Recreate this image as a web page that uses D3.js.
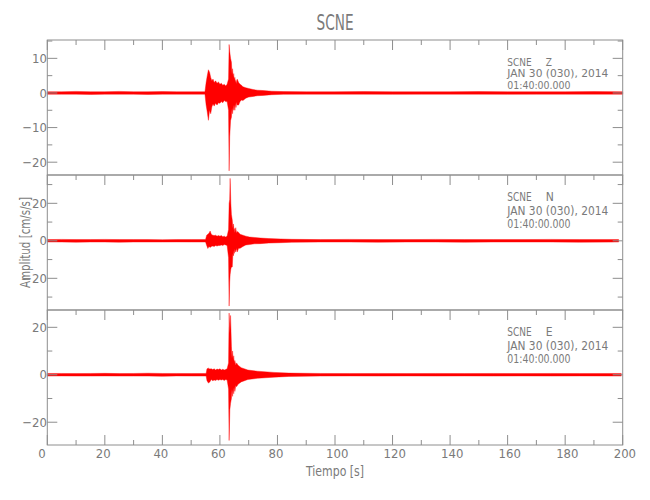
<!DOCTYPE html>
<html><head><meta charset="utf-8">
<script src="https://cdn.jsdelivr.net/npm/d3@7"></script>
<style>
html,body{margin:0;padding:0;background:#fff;}
text{font-family:"Liberation Sans Narrow","DejaVu Sans Condensed","Liberation Sans",sans-serif;fill:#7a7a7a;}
</style></head>
<body><svg id="c" width="650" height="500"></svg>
<script>
// ---------- data (envelope of each trace) ----------
const title = "SCNE";
const station = "SCNE";
const components = ["Z", "N", "E"];
const dateLabel = "JAN 30 (030), 2014";
const timeLabel = "01:40:00.000";
const xLabel = "Tiempo [s]";
const yLabel = "Amplitud [cm/s/s]";
const xTicks = [0, 20, 40, 60, 80, 100, 120, 140, 160, 180, 200];
const yDomains = [[-23.7, 15.3], [-36.9, 35.1], [-29.6, 27.3]];
const yMajorTicks = [[10, 0, -10, -20], [20, 0, -20], [20, 0, -20]];
const yMinorStep = [5, 10, 10];

// Z component
const zTime = [0,5,10,15,20,25,30,35,40,45,50,54.8,55.2,55.6,56.0,56.4,56.8,57.2,57.6,58.0,58.5,59.0,59.5,60.0,60.5,61.0,61.5,62.0,62.5,63.0,63.2,63.4,63.7,64.0,64.2,64.4,64.6,64.8,65.0,65.2,65.4,65.6,65.8,66.0,66.5,67.0,67.5,68.0,69.0,70.0,71.5,73.0,75.0,78.0,82.0,90,100,110,120,130,140,150,160,170,180,190,200];
const zMax  = [0.35,0.35,0.45,0.35,0.35,0.45,0.35,0.35,0.4,0.35,0.35,0.35,3.0,5.0,6.7,6.0,4.5,3.5,4.0,3.0,3.5,2.8,3.2,2.5,2.8,2.2,2.5,2.0,2.5,4.0,14.0,12.0,10.0,8.9,5.5,7.0,4.5,5.6,3.8,4.5,3.0,3.7,2.6,4.0,3.0,2.5,2.2,1.8,1.5,1.3,1.0,0.8,0.7,0.5,0.4,0.35,0.35,0.4,0.35,0.35,0.35,0.4,0.35,0.35,0.35,0.4,0.35];
const zMin  = [-0.35,-0.35,-0.35,-0.45,-0.35,-0.35,-0.35,-0.45,-0.35,-0.35,-0.35,-0.35,-3.5,-5.5,-7.9,-5.0,-6.0,-4.0,-3.2,-3.8,-3.0,-3.5,-2.8,-3.0,-2.5,-2.8,-2.2,-2.5,-2.5,-5.0,-22.5,-12.7,-8.0,-7.0,-4.5,-6.0,-3.5,-5.0,-3.5,-5.0,-3.0,-4.2,-2.6,-3.5,-3.5,-2.5,-2.0,-2.2,-1.5,-1.2,-1.0,-0.8,-0.7,-0.5,-0.4,-0.35,-0.35,-0.35,-0.4,-0.35,-0.35,-0.35,-0.4,-0.35,-0.35,-0.35,-0.35];

// N component
const nTime = [0,5,10,15,20,25,30,35,40,45,50,55.0,55.4,55.8,56.2,56.6,57.0,57.5,58.0,58.5,59.0,59.5,60.0,60.5,61.0,61.5,62.0,62.5,63.0,63.2,63.4,63.55,63.8,64.0,64.3,64.5,64.7,64.9,65.0,65.2,65.5,65.8,66.0,66.5,67.0,68.0,69.0,70.3,72.0,74.0,77.0,81.0,85,95,105,115,125,135,145,155,165,175,185,198.6];
const nMax  = [0.65,0.75,0.65,0.65,0.75,0.65,0.65,0.65,0.6,0.65,0.65,0.65,3.0,3.5,4.0,5.2,3.5,3.0,2.8,3.0,2.5,2.8,2.5,2.8,2.2,2.5,2.0,2.5,6.0,20.0,22.0,33.3,20.0,14.0,11.0,7.0,9.0,5.5,6.6,4.5,7.0,4.0,5.0,4.5,3.5,3.0,2.5,2.0,1.8,1.5,1.2,1.0,0.8,0.65,0.75,0.65,0.65,0.75,0.65,0.65,0.65,0.75,0.65,0.65];
const nMin  = [-0.65,-0.65,-0.75,-0.65,-0.65,-0.75,-0.65,-0.65,-0.65,-0.6,-0.65,-0.65,-2.5,-4.1,-3.0,-3.5,-3.0,-2.8,-3.0,-2.5,-2.8,-2.5,-2.5,-2.2,-2.5,-2.0,-2.2,-2.5,-9.0,-34.8,-22.0,-18.0,-15.0,-14.0,-13.9,-7.0,-8.0,-5.0,-6.7,-4.5,-6.0,-4.0,-6.0,-4.0,-4.0,-3.0,-2.2,-2.0,-1.6,-1.5,-1.2,-1.0,-0.8,-0.65,-0.65,-0.75,-0.65,-0.65,-0.75,-0.65,-0.65,-0.65,-0.75,-0.65];

// E component
const eTime = [0,5,10,15,20,25,30,35,40,45,50,55.2,55.5,56.0,56.5,57.0,57.5,58.0,58.5,59.0,59.5,60.0,60.5,61.0,61.5,62.0,62.5,63.0,63.2,63.45,63.7,64.0,64.2,64.4,64.6,64.8,65.0,65.2,65.5,65.8,66.3,67.4,69.7,73.0,78.8,84,95,105,115,125,135,145,155,165,175,185,199.5];
const eMax  = [0.55,0.55,0.5,0.55,0.6,0.5,0.55,0.65,0.55,0.55,0.5,0.55,2.5,2.8,2.4,2.5,2.2,2.5,2.0,2.4,2.2,2.5,2.0,2.3,2.0,2.2,2.5,5.0,26.0,17.5,25.0,12.0,7.0,10.0,6.0,8.0,5.0,6.0,4.0,5.0,4.0,3.0,2.0,1.5,1.0,0.7,0.55,0.5,0.55,0.5,0.55,0.5,0.55,0.5,0.55,0.5,0.55];
const eMin  = [-0.55,-0.5,-0.55,-0.55,-0.5,-0.55,-0.55,-0.55,-0.65,-0.5,-0.55,-0.55,-2.5,-3.5,-3.0,-2.0,-2.5,-2.2,-2.4,-2.0,-2.3,-2.0,-2.2,-2.0,-2.4,-2.0,-2.2,-6.0,-27.7,-14.7,-12.0,-10.0,-6.0,-9.1,-5.5,-8.0,-5.0,-7.0,-4.5,-5.0,-4.0,-3.0,-2.0,-1.5,-1.0,-0.7,-0.55,-0.5,-0.55,-0.5,-0.55,-0.5,-0.55,-0.5,-0.55,-0.5,-0.55];

const traces = [[zTime, zMax, zMin], [nTime, nMax, nMin], [eTime, eMax, eMin]];

// ---------- layout ----------
const svg = d3.select("#c");
const L = 47.3, R = 622.7;
const panelTops = [40, 175, 310], panelH = 135;
const axisCol = "#8e8e8e";
const x = d3.scaleLinear().domain([0, 200]).range([L, R]);

svg.append("text").attr("x", 335).attr("y", 30).attr("text-anchor", "middle")
  .attr("font-size", 21).attr("textLength", 37).attr("lengthAdjust", "spacingAndGlyphs").text(title);

const labelOffsets = [[25.7, 37.3, 48.7], [25.7, 40, 53.3], [25.7, 40, 53.3]];
const labelSizes = [10, 12, 12];

traces.forEach((tr, i) => {
  const top = panelTops[i], bot = top + panelH;
  const y = d3.scaleLinear().domain(yDomains[i]).range([bot, top]);
  const g = svg.append("g");
  const data = tr[0].map((t, k) => ({t, max: tr[1][k], min: tr[2][k]}));

  // trace envelope
  const area = d3.area().x(d => x(d.t)).y0(d => y(d.min)).y1(d => y(d.max));
  g.append("path").datum(data).attr("d", area)
    .attr("fill", "#ff0000").attr("stroke", "#ff0000").attr("stroke-width", 0.4)
    .attr("stroke-linejoin", "round");

  // frame
  g.append("rect").attr("x", L).attr("y", top).attr("width", R - L).attr("height", panelH)
    .attr("fill", "none").attr("stroke", axisCol).attr("stroke-width", 1);

  // top x ticks (pointing down)
  const xMinor = d3.range(0, 201, 10);
  g.selectAll(null).data(xMinor).enter().append("line")
    .attr("x1", d => x(d)).attr("x2", d => x(d))
    .attr("y1", top).attr("y2", d => top + (d % 20 === 0 ? 10 : 5))
    .attr("stroke", axisCol);
  if (i === 2) {
    g.selectAll(null).data(xMinor).enter().append("line")
      .attr("x1", d => x(d)).attr("x2", d => x(d))
      .attr("y1", bot).attr("y2", d => bot - (d % 20 === 0 ? 10 : 5))
      .attr("stroke", axisCol);
    g.selectAll(null).data(xTicks).enter().append("text")
      .attr("x", d => x(d) - 9).attr("y", 458.3).attr("font-size", 13)
      .text(d => d3.format("d")(d));
  }

  // y ticks left & right
  const step = yMinorStep[i];
  const yt = d3.range(Math.ceil(yDomains[i][0] / step) * step, yDomains[i][1] + 0.001, step);
  const isMajor = d => yMajorTicks[i].includes(d);
  g.selectAll(null).data(yt).enter().append("line")
    .attr("x1", L).attr("x2", d => L + (isMajor(d) ? 10 : 5))
    .attr("y1", d => y(d)).attr("y2", d => y(d)).attr("stroke", axisCol);
  g.selectAll(null).data(yt).enter().append("line")
    .attr("x1", R).attr("x2", d => R - (isMajor(d) ? 10 : 5))
    .attr("y1", d => y(d)).attr("y2", d => y(d)).attr("stroke", axisCol);
  g.selectAll(null).data(yMajorTicks[i]).enter().append("text")
    .attr("x", 47).attr("y", d => y(d)).attr("dy", "0.35em")
    .attr("text-anchor", "end").attr("font-size", 13)
    .text(d => d3.format("d")(d));

  // station labels
  const off = labelOffsets[i], fs = labelSizes[i];
  g.append("text").attr("x", 507.3).attr("y", top + off[0]).attr("font-size", fs)
    .attr("textLength", 24.3).attr("lengthAdjust", "spacingAndGlyphs").text(station);
  g.append("text").attr("x", 545.7).attr("y", top + off[0]).attr("font-size", fs).text(components[i]);
  g.append("text").attr("x", 507.3).attr("y", top + off[1]).attr("font-size", fs)
    .attr("textLength", 101).attr("lengthAdjust", "spacingAndGlyphs").text(dateLabel);
  g.append("text").attr("x", 507.3).attr("y", top + off[2]).attr("font-size", fs)
    .attr("textLength", 63.3).attr("lengthAdjust", "spacingAndGlyphs").text(timeLabel);
});

svg.append("text").attr("x", 335).attr("y", 476).attr("text-anchor", "middle")
  .attr("font-size", 14).attr("textLength", 58).attr("lengthAdjust", "spacingAndGlyphs").text(xLabel);
svg.append("text").attr("transform", "translate(29.5,242.5) rotate(-90)")
  .attr("text-anchor", "middle").attr("font-size", 14)
  .attr("textLength", 91).attr("lengthAdjust", "spacingAndGlyphs").text(yLabel);
</script></body></html>
